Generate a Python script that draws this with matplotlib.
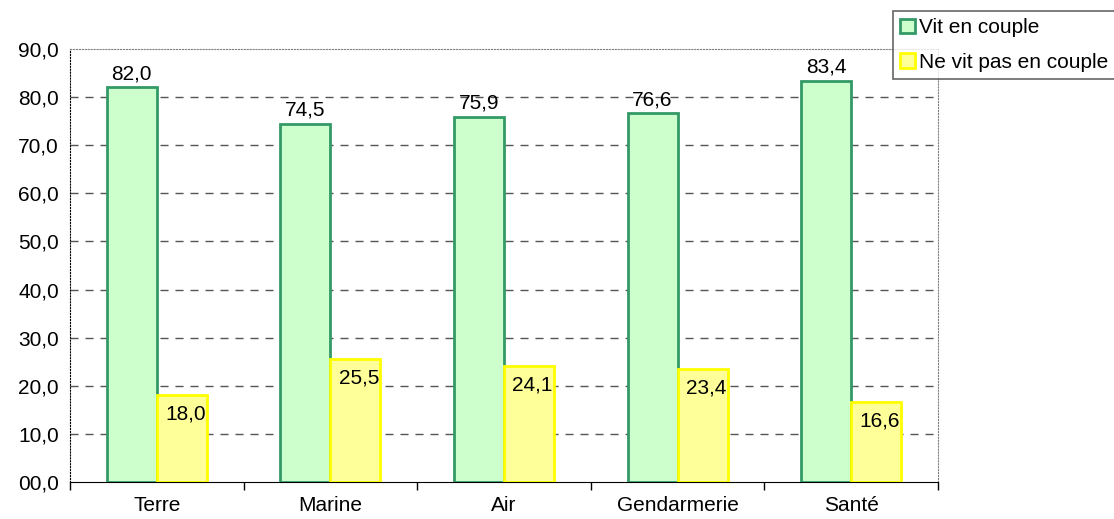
import matplotlib.pyplot as plt
import numpy as np

categories = ["Terre", "Marine", "Air", "Gendarmerie", "Santé"]
couple = [82.0, 74.5, 75.9, 76.6, 83.4]
pas_couple = [18.0, 25.5, 24.1, 23.4, 16.6]
yticks = [0, 10, 20, 30, 40, 50, 60, 70, 80, 90]
ylabels = ["00,0", "10,0", "20,0", "30,0", "40,0", "50,0", "60,0", "70,0", "80,0", "90,0"]

plt.rcParams['font.family'] = ['Liberation Sans', 'DejaVu Sans']
fs = 15

fig = plt.figure(figsize=(11.14, 5.19), dpi=100)
ax = fig.add_axes([0.0628, 0.0713, 0.7792, 0.8343])

x = np.arange(len(categories))
w = 0.288
b1 = ax.bar(x - w/2, couple, w, color='#CCFFCC', edgecolor='#339966', linewidth=2,
            label='Vit en couple', zorder=3)
b2 = ax.bar(x + w/2, pas_couple, w, color='#FFFF99', edgecolor='#FFFF00', linewidth=2,
            label='Ne vit pas en couple', zorder=3)

fmt = lambda v: f"{v:.1f}".replace(".", ",")
for xi, v in zip(x, couple):
    ax.text(xi - w/2, v + 0.8, fmt(v), ha='center', va='bottom', fontsize=fs, zorder=4)
for xi, v in zip(x, pas_couple):
    ax.text(xi + w/2 + 0.02, v - 3.9, fmt(v), ha='center', va='center', fontsize=fs, zorder=4)

ax.set_xlim(-0.5, len(categories) - 0.5)
ax.set_ylim(0, 90)
ax.set_yticks(yticks)
ax.set_yticklabels(ylabels, fontsize=fs)
ax.tick_params(axis='y', length=0, pad=8)

ax.set_xticks(x)
ax.set_xticklabels(categories, fontsize=fs)
ax.set_xticks(np.arange(-0.5, len(categories)), minor=True)
ax.tick_params(axis='x', which='major', length=0, pad=10)
ax.tick_params(axis='x', which='minor', length=6, width=1, direction='out')

for yv in yticks[1:-1]:
    ax.axhline(yv, color='#555555', linestyle=(0, (5.8, 5)), linewidth=1, zorder=1)

ax.spines['top'].set_linestyle(':')
ax.spines['top'].set_color('#808080')
ax.spines['right'].set_linestyle(':')
ax.spines['right'].set_color('#808080')
ax.spines['left'].set_linestyle(':')
ax.spines['left'].set_color('#000000')
ax.spines['bottom'].set_color('#000000')

leg = fig.legend(handles=[b1, b2], loc='upper left', bbox_to_anchor=(0.8015, 0.979),
                 fontsize=fs, frameon=True, fancybox=False, edgecolor='#404040',
                 handlelength=0.7, handleheight=0.7, handletextpad=0.2,
                 borderpad=0.35, labelspacing=0.75, borderaxespad=0)
leg.get_frame().set_linewidth(1.2)

fig.savefig("out.png", dpi=100)
